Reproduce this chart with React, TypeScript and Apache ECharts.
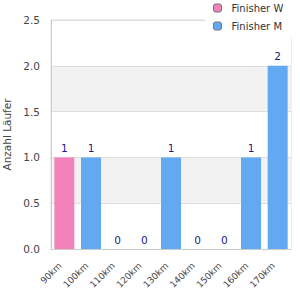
import React, { useEffect, useRef } from "react";
import * as echarts from "echarts";

const categories = ["90km", "100km", "110km", "120km", "130km", "140km", "150km", "160km", "170km"];
const finisherW: (number | string)[] = [1, "-", "-", "-", "-", "-", "-", "-", "-"];
const finisherM: (number | string)[] = ["-", 1, 0, 0, 1, 0, 0, 1, 2];
const yTicks = { min: 0, max: 2.5, interval: 0.5 };

export default function App() {
  const ref = useRef<HTMLDivElement>(null);
  useEffect(() => {
    if (!ref.current) return;
    const chart = echarts.init(ref.current, undefined, { renderer: "svg" });
    const font = "DejaVu Sans, Verdana, sans-serif";
    const label = {
      show: true,
      position: "top" as const,
      color: "#1a1a8c",
      fontSize: 10.5,
      fontFamily: font,
      distance: 4,
    };
    chart.setOption({
      animation: false,
      textStyle: { fontFamily: font },
      grid: {
        left: 51,
        right: 9,
        top: 20,
        bottom: 51,
        outerBoundsMode: "none",
        containLabel: false,
        show: true,
        borderColor: "#dddddd",
        borderWidth: 1,
        backgroundColor: "transparent",
      },
      legend: {
        orient: "vertical",
        left: 205,
        top: 0,
        padding: [3, 20, 5, 8],
        backgroundColor: "#ffffff",
        itemWidth: 8,
        itemHeight: 8,
        itemGap: 8,
        textStyle: { fontSize: 10, color: "#333", fontFamily: font, padding: [0, 0, 0, 5] },
        data: [
          { name: "Finisher W", itemStyle: { borderColor: "#777", borderWidth: 1 } },
          { name: "Finisher M", itemStyle: { borderColor: "#777", borderWidth: 1 } },
        ],
      },
      xAxis: {
        type: "category",
        data: categories,
        axisLine: { lineStyle: { color: "#cccccc" } },
        axisTick: { show: false },
        axisLabel: {
          rotate: 45,
          fontSize: 9,
          color: "#444",
          margin: 11,
          interval: 0,
          padding: [0, 6, 0, 0],
        },
      },
      yAxis: {
        type: "value",
        min: yTicks.min,
        max: yTicks.max,
        interval: yTicks.interval,
        name: "Anzahl Läufer",
        nameLocation: "middle",
        nameGap: 39,
        nameTextStyle: { fontSize: 10.5, color: "#444" },
        axisLine: { show: true, lineStyle: { color: "#cccccc" } },
        axisTick: { show: false },
        axisLabel: {
          fontSize: 10.5,
          color: "#444",
          margin: 11,
          formatter: (v: number) => v.toFixed(1),
        },
        splitLine: { lineStyle: { color: "#dddddd" } },
        splitArea: { show: true, areaStyle: { color: ["#ffffff", "#f2f2f2"] } },
      },
      series: [
        {
          name: "Finisher W",
          type: "bar",
          stack: "t",
          barWidth: "75%",
          data: finisherW,
          itemStyle: { color: "#f282b9" },
          label,
        },
        {
          name: "Finisher M",
          type: "bar",
          stack: "t",
          barWidth: "75%",
          data: finisherM,
          itemStyle: { color: "#62a9f2" },
          label,
        },
      ],
    });
    return () => chart.dispose();
  }, []);
  return <div ref={ref} style={{ width: 300, height: 300, position: "absolute", left: 0, top: 0 }} />;
}
